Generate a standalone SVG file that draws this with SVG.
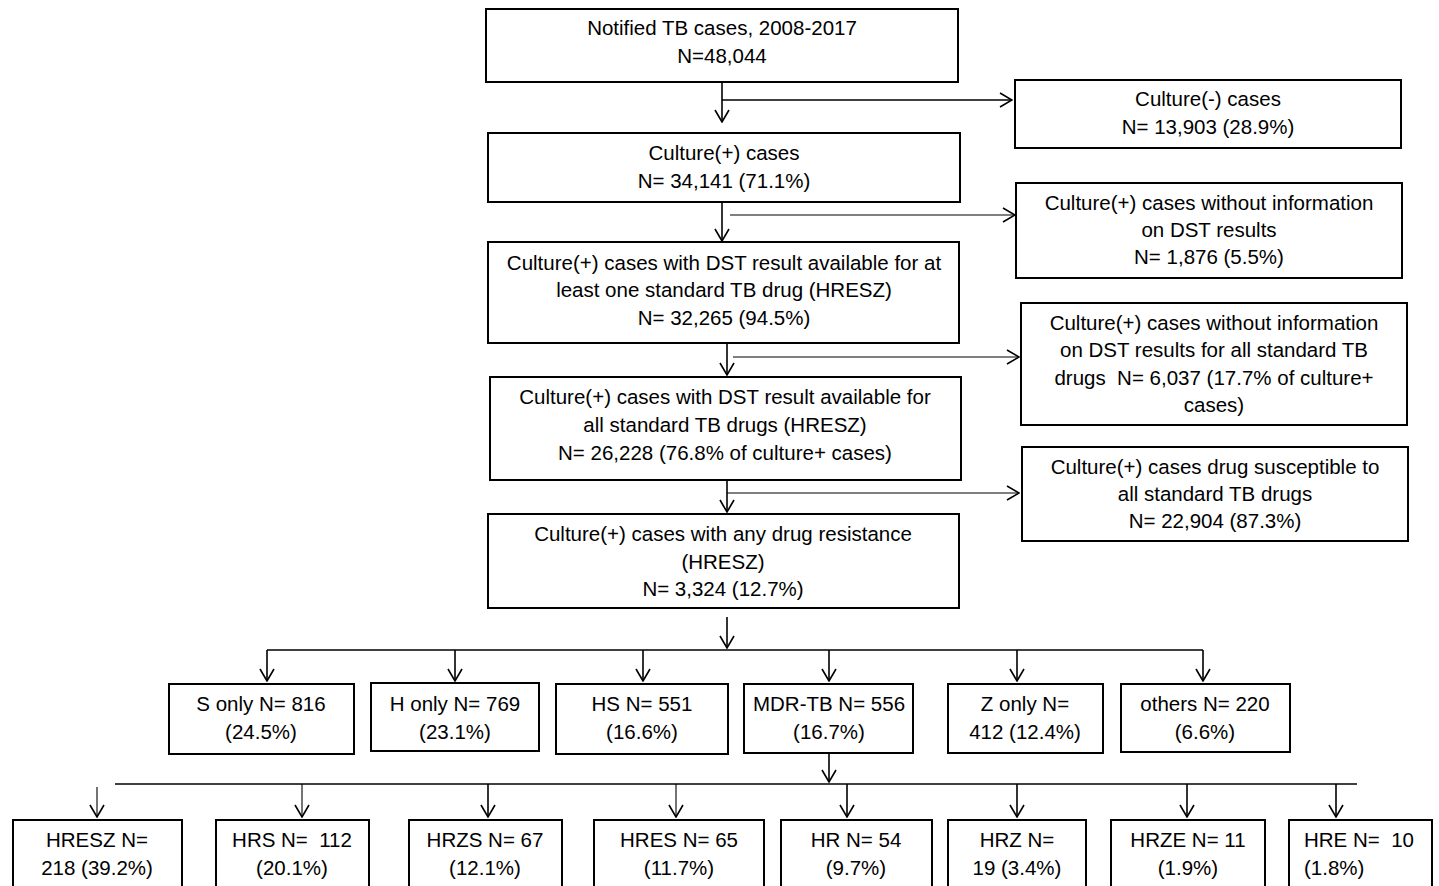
<svg xmlns="http://www.w3.org/2000/svg" width="1439" height="886" viewBox="0 0 1439 886">
<style>
  .box { fill: #fff; stroke: #000; stroke-width: 2; }
  .t { font-family: "Liberation Sans", Arial, Helvetica, sans-serif; font-size: 20.5px; fill: #000; text-anchor: middle; white-space: pre; }
  .ts { text-anchor: start; }
  .c { fill: none; stroke: #000; stroke-width: 1.6; }
  .thin { stroke-width: 1.1; }
</style>
<defs>
  <marker id="arr" viewBox="0 0 14 16" refX="13" refY="8" markerWidth="14" markerHeight="16" orient="auto" markerUnits="userSpaceOnUse">
    <path d="M1,1 L13,8 L1,15" fill="none" stroke="#000" stroke-width="1.6"/>
  </marker>
</defs>
<rect width="1439" height="886" fill="#fff"/>

<g id="connectors">
  <path class="c" d="M722,82 V122" marker-end="url(#arr)"/>
  <path class="c" d="M722,100 H1012" marker-end="url(#arr)"/>
  <path class="c" d="M722,202 V241" marker-end="url(#arr)"/>
  <path class="c thin" d="M730,215 H1015" marker-end="url(#arr)"/>
  <path class="c" d="M727,343 V375" marker-end="url(#arr)"/>
  <path class="c thin" d="M733,357 H1019" marker-end="url(#arr)"/>
  <path class="c" d="M727,480 V512" marker-end="url(#arr)"/>
  <path class="c thin" d="M727,493 H1019" marker-end="url(#arr)"/>
  <path class="c" d="M727,617 V648" marker-end="url(#arr)"/>
  <path class="c" d="M267,650 H1203"/>
  <path class="c" d="M267,650 V681" marker-end="url(#arr)"/>
  <path class="c" d="M455,650 V681" marker-end="url(#arr)"/>
  <path class="c" d="M643,650 V681" marker-end="url(#arr)"/>
  <path class="c" d="M829,650 V681" marker-end="url(#arr)"/>
  <path class="c" d="M1017,650 V681" marker-end="url(#arr)"/>
  <path class="c" d="M1203,650 V681" marker-end="url(#arr)"/>
  <path class="c" d="M829,753 V782" marker-end="url(#arr)"/>
  <path class="c" d="M115,784 H1357"/>
  <path class="c thin" d="M97,787 V817" marker-end="url(#arr)"/>
  <path class="c thin" d="M302,784 V817" marker-end="url(#arr)"/>
  <path class="c" d="M488,784 V817" marker-end="url(#arr)"/>
  <path class="c thin" d="M676,784 V817" marker-end="url(#arr)"/>
  <path class="c" d="M847,784 V817" marker-end="url(#arr)"/>
  <path class="c" d="M1017,784 V817" marker-end="url(#arr)"/>
  <path class="c" d="M1187,784 V817" marker-end="url(#arr)"/>
  <path class="c" d="M1336,784 V817" marker-end="url(#arr)"/>
</g>

<g id="n-notified">
  <rect class="box" x="486" y="9" width="472" height="73"/>
  <text class="t" x="722" y="35">Notified TB cases, 2008-2017</text>
  <text class="t" x="722" y="63">N=48,044</text>
</g>
<g id="n-culture-pos">
  <rect class="box" x="488" y="133" width="472" height="69"/>
  <text class="t" x="724" y="160">Culture(+) cases</text>
  <text class="t" x="724" y="188">N= 34,141 (71.1%)</text>
</g>
<g id="n-dst-one">
  <rect class="box" x="488" y="242" width="471" height="101"/>
  <text class="t" x="724" y="270">Culture(+) cases with DST result available for at</text>
  <text class="t" x="724" y="297">least one standard TB drug (HRESZ)</text>
  <text class="t" x="724" y="325">N= 32,265 (94.5%)</text>
</g>
<g id="n-dst-all">
  <rect class="box" x="490" y="377" width="471" height="103"/>
  <text class="t" x="725" y="404">Culture(+) cases with DST result available for</text>
  <text class="t" x="725" y="432">all standard TB drugs (HRESZ)</text>
  <text class="t" x="725" y="460">N= 26,228 (76.8% of culture+ cases)</text>
</g>
<g id="n-any-res">
  <rect class="box" x="488" y="514" width="471" height="94"/>
  <text class="t" x="723" y="541">Culture(+) cases with any drug resistance</text>
  <text class="t" x="723" y="569">(HRESZ)</text>
  <text class="t" x="723" y="596">N= 3,324 (12.7%)</text>
</g>

<g id="n-culture-neg">
  <rect class="box" x="1015" y="80" width="386" height="68"/>
  <text class="t" x="1208" y="106">Culture(-) cases</text>
  <text class="t" x="1208" y="134">N= 13,903 (28.9%)</text>
</g>
<g id="n-no-dst">
  <rect class="box" x="1016" y="183" width="386" height="95"/>
  <text class="t" x="1209" y="210">Culture(+) cases without information</text>
  <text class="t" x="1209" y="237">on DST results</text>
  <text class="t" x="1209" y="264">N= 1,876 (5.5%)</text>
</g>
<g id="n-no-dst-all">
  <rect class="box" x="1021" y="303" width="386" height="122"/>
  <text class="t" x="1214" y="330">Culture(+) cases without information</text>
  <text class="t" x="1214" y="357">on DST results for all standard TB</text>
  <text class="t" x="1214" y="385" xml:space="preserve">drugs  N= 6,037 (17.7% of culture+</text>
  <text class="t" x="1214" y="412">cases)</text>
</g>
<g id="n-susceptible">
  <rect class="box" x="1022" y="447" width="386" height="94"/>
  <text class="t" x="1215" y="474">Culture(+) cases drug susceptible to</text>
  <text class="t" x="1215" y="501">all standard TB drugs</text>
  <text class="t" x="1215" y="528">N= 22,904 (87.3%)</text>
</g>

<g id="n-s-only">
  <rect class="box" x="169" y="684" width="185" height="70"/>
  <text class="t" x="261" y="711">S only N= 816</text>
  <text class="t" x="261" y="739">(24.5%)</text>
</g>
<g id="n-h-only">
  <rect class="box" x="371" y="683" width="168" height="68"/>
  <text class="t" x="455" y="711">H only N= 769</text>
  <text class="t" x="455" y="739">(23.1%)</text>
</g>
<g id="n-hs">
  <rect class="box" x="556" y="684" width="172" height="70"/>
  <text class="t" x="642" y="711">HS N= 551</text>
  <text class="t" x="642" y="739">(16.6%)</text>
</g>
<g id="n-mdr">
  <rect class="box" x="744" y="684" width="169" height="69"/>
  <text class="t" x="829" y="711">MDR-TB N= 556</text>
  <text class="t" x="829" y="739">(16.7%)</text>
</g>
<g id="n-z-only">
  <rect class="box" x="948" y="684" width="155" height="69"/>
  <text class="t" x="1025" y="711">Z only N=</text>
  <text class="t" x="1025" y="739">412 (12.4%)</text>
</g>
<g id="n-others">
  <rect class="box" x="1121" y="684" width="169" height="68"/>
  <text class="t" x="1205" y="711">others N= 220</text>
  <text class="t" x="1205" y="739">(6.6%)</text>
</g>

<g id="n-hresz">
  <rect class="box" x="13" y="820" width="169" height="90"/>
  <text class="t" x="97" y="847">HRESZ N=</text>
  <text class="t" x="97" y="875">218 (39.2%)</text>
</g>
<g id="n-hrs">
  <rect class="box" x="216" y="820" width="153" height="90"/>
  <text class="t" x="292" y="847" xml:space="preserve">HRS N=  112</text>
  <text class="t" x="292" y="875">(20.1%)</text>
</g>
<g id="n-hrzs">
  <rect class="box" x="409" y="820" width="153" height="90"/>
  <text class="t" x="485" y="847">HRZS N= 67</text>
  <text class="t" x="485" y="875">(12.1%)</text>
</g>
<g id="n-hres">
  <rect class="box" x="594" y="820" width="170" height="90"/>
  <text class="t" x="679" y="847">HRES N= 65</text>
  <text class="t" x="679" y="875">(11.7%)</text>
</g>
<g id="n-hr">
  <rect class="box" x="781" y="820" width="151" height="90"/>
  <text class="t" x="856" y="847">HR N= 54</text>
  <text class="t" x="856" y="875">(9.7%)</text>
</g>
<g id="n-hrz">
  <rect class="box" x="948" y="820" width="138" height="90"/>
  <text class="t" x="1017" y="847">HRZ N=</text>
  <text class="t" x="1017" y="875">19 (3.4%)</text>
</g>
<g id="n-hrze">
  <rect class="box" x="1111" y="820" width="154" height="90"/>
  <text class="t" x="1188" y="847">HRZE N= 11</text>
  <text class="t" x="1188" y="875">(1.9%)</text>
</g>
<g id="n-hre">
  <rect class="box" x="1289" y="820" width="143" height="90"/>
  <text class="t ts" x="1304" y="847" xml:space="preserve">HRE N=  10</text>
  <text class="t ts" x="1304" y="875">(1.8%)</text>
</g>
</svg>
